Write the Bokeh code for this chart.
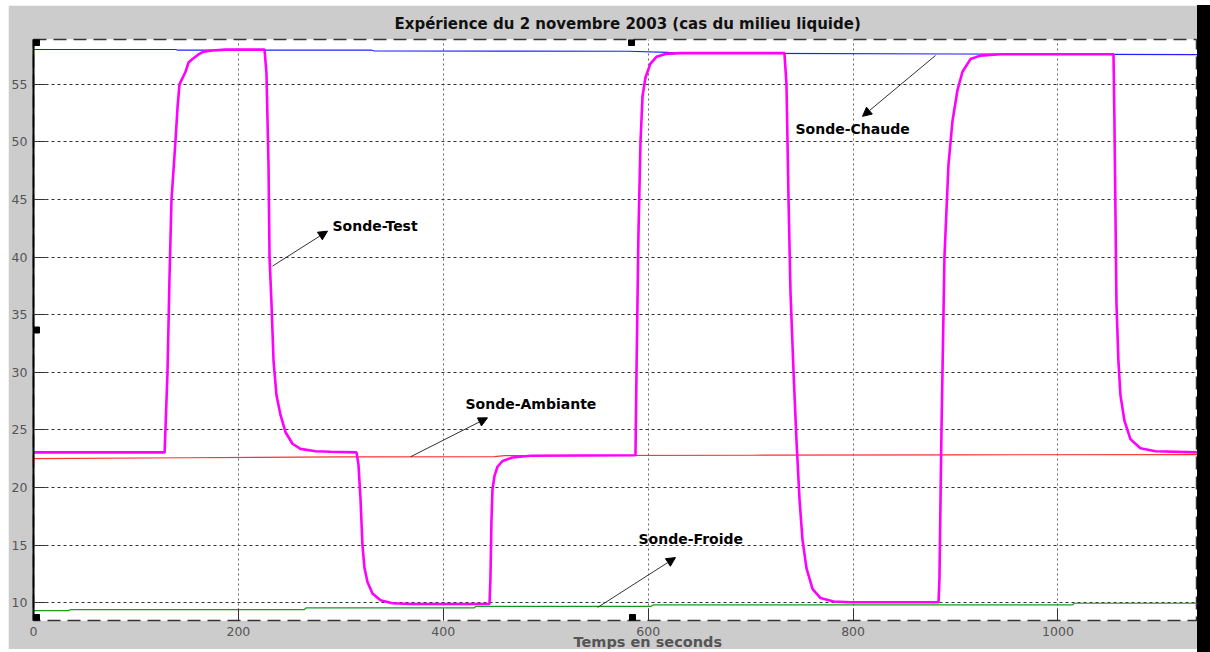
from bokeh.plotting import figure
from bokeh.models import (Range1d, FixedTicker, Label, Arrow, NormalHead, Div, Title)
from bokeh.layouts import row
from bokeh.embed import file_html
from bokeh.resources import INLINE

# ---------------- data ----------------
title_text = "Expérience du 2 novembre 2003 (cas du milieu liquide)"
xlabel_text = "Temps en seconds"
x_ticks = [0, 200, 400, 600, 800, 1000]
y_ticks = [10, 15, 20, 25, 30, 35, 40, 45, 50, 55]

test_t = [0, 128, 130.8, 132.7, 134.7, 138.6, 140.6, 142.5, 148.4, 151.3, 155.2, 161, 166, 174.7, 187.4,
          225.5, 227.4, 229.4, 230.4, 232.3, 234.3, 237.2, 241.1, 246, 252.8, 260.6, 275.3, 290, 315.3,
          317.2, 319.2, 321.1, 323.1, 326, 330.9, 338.7, 350.4, 368, 445.1,
          446, 447, 448, 450, 452.9, 457.8, 467.5, 485, 587.6,
          588.6, 590.5, 592.5, 594.5, 597.4, 602.2, 608.1, 616.9, 631.5, 733,
          735, 737, 738.9, 741.9, 744.8, 747.7, 750.6, 754.5, 760.4, 768.2, 780.9, 797.5, 883.4,
          884.3, 886.3, 889.2, 893.1, 897, 901.9, 906.8, 914.6, 924.3, 943.9, 1054.2,
          1055.1, 1056.1, 1057.1, 1059, 1061, 1064.9, 1070.7, 1080.5, 1095.2, 1136.2]
test_v = [23.05, 23.05, 30, 38, 45, 50.1, 53, 55, 56.1, 56.9, 57.2, 57.6, 57.85, 57.95, 58.02,
          58.02, 56, 48, 40, 36, 31, 28, 26.3, 24.8, 23.8, 23.35, 23.15, 23.1, 23.05,
          22, 19, 15, 13, 11.8, 10.8, 10.2, 9.95, 9.88, 9.88,
          12, 17, 19.8, 21, 21.8, 22.3, 22.6, 22.75, 22.8,
          30, 42, 50, 54, 55.6, 56.8, 57.4, 57.65, 57.72, 57.72,
          55, 45, 37, 30, 24, 19, 15.5, 13, 11.2, 10.4, 10.1, 10.03, 10.03,
          12, 25, 40, 48, 51.8, 54.5, 56.1, 57.2, 57.5, 57.62, 57.62,
          52, 44, 36, 31, 28, 25.8, 24.2, 23.4, 23.15, 23.05]

chaude_t = [0, 139, 141, 330, 332, 580, 620, 700, 900, 1136.2]
chaude_v = [58.03, 58.03, 57.97, 57.97, 57.92, 57.88, 57.78, 57.7, 57.64, 57.58]

ambiante_t = [0, 150, 300, 450, 460, 700, 900, 1136.2]
ambiante_v = [22.5, 22.58, 22.65, 22.68, 22.76, 22.8, 22.84, 22.85]

froide_t = [0, 34, 36, 264, 266, 430, 432, 603, 605, 1014, 1016, 1136.2]
froide_v = [9.31, 9.31, 9.39, 9.39, 9.54, 9.54, 9.68, 9.68, 9.8, 9.8, 9.95, 9.95]

# ---------------- figure ----------------
X0, X1 = 0, 1136.2
Y0, Y1 = 8.45, 58.9
FONT = "DejaVu Sans"

p = figure(width=1189, height=644, output_backend="svg", toolbar_location=None,
           x_range=Range1d(X0, X1), y_range=Range1d(Y0, Y1),
           min_border_left=25, min_border_right=0, min_border_top=33, min_border_bottom=29,
           background_fill_color="white", border_fill_color="#cccccc")
p.margin = (5, 0, 0, 8)

p.title.text = title_text
p.title.align = "left"
p.title.offset = 361
p.title.text_font = FONT
p.title.text_font_size = "15px"
p.title.text_font_style = "bold"
p.title.text_color = "#111111"
p.title.standoff = 14

p.outline_line_color = "#333333"
p.outline_line_dash = "13 7"
p.outline_line_width = 1.5

for ax in (p.xaxis, p.yaxis):
    ax.major_label_text_font = FONT
    ax.major_label_text_font_size = "12.5px"
    ax.major_label_text_color = "#555555"
    ax.major_tick_in = 12
    ax.major_tick_out = 0
    ax.major_tick_line_color = "#333333"
    ax.minor_tick_line_color = None
    ax.major_label_standoff = 6

p.xaxis.ticker = FixedTicker(ticks=x_ticks)
p.yaxis.ticker = FixedTicker(ticks=y_ticks)
p.xaxis.axis_line_color = None
p.yaxis.axis_line_color = "black"
p.yaxis.axis_line_width = 2

p.xgrid.ticker = FixedTicker(ticks=x_ticks)
p.ygrid.ticker = FixedTicker(ticks=y_ticks)
p.xgrid.grid_line_color = "#666666"
p.xgrid.grid_line_dash = "2 3"
p.ygrid.grid_line_color = "#333333"
p.ygrid.grid_line_dash = "3 3"

p.line(chaude_t, chaude_v, line_color="#2020ff", line_width=1.2)
p.line(ambiante_t, ambiante_v, line_color="#ff3030", line_width=1.2)
p.line(froide_t, froide_v, line_color="#1a9a1a", line_width=1.2)
p.line(test_t, test_v, line_color="#ff00ff", line_width=2.6)

# px -> data helpers (frame: left 33, top 38 in page coordinates)
def dx(px):
    return (px - 33) / 1164 * (X1 - X0) + X0
def dy(py):
    return Y1 - (py - 38) / 582 * (Y1 - Y0)

# selection handles
hx = [dx(36), dx(631), dx(36), dx(36), dx(632)]
hy = [dy(41), dy(41), dy(329), dy(617), dy(617)]
p.scatter(hx, hy, marker="square", size=6, fill_color="black", line_color="black")

# annotations
ann = [
    ("Sonde-Test", 332, 225, (272, 265), (327, 230)),
    ("Sonde-Ambiante", 465, 403, (410, 456), (487, 417)),
    ("Sonde-Froide", 638, 538, (597, 607), (675, 557)),
    ("Sonde-Chaude", 795, 128, (935, 54), (862, 115)),
]
for txt, lx, ly, tail, head in ann:
    p.add_layout(Label(x=dx(lx), y=dy(ly), text=txt, text_font=FONT, text_font_style="bold",
                       text_font_size="14px", text_color="black",
                       text_align="left", text_baseline="middle"))
    p.add_layout(Arrow(end=NormalHead(size=9, fill_color="black", line_color="black"),
                       x_start=dx(tail[0]), y_start=dy(tail[1]), x_end=dx(head[0]), y_end=dy(head[1]),
                       line_color="#333333", line_width=1))

# x label as a title below the axis
xl = Title(text=xlabel_text, align="left", offset=540, text_font=FONT, text_font_style="bold",
           text_font_size="14.5px", text_color="#555555", standoff=-14)
p.add_layout(xl, "below")

bar = Div(width=13, height=647, styles={"background-color": "black"})
bar.margin = (5, 0, 0, 0)
layout = row(p, bar)

open("out.html", "w").write(file_html(layout, INLINE))
